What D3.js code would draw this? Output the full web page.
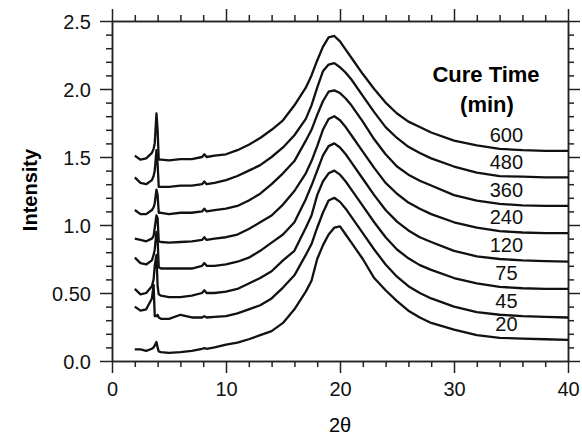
<!DOCTYPE html>
<html>
<head>
<meta charset="utf-8">
<script src="https://cdn.jsdelivr.net/npm/d3@7"></script>
<style>
  body { margin: 0; background: #fff; }
  svg { display: block; font-family: "Liberation Sans", Arial, sans-serif; }
  .axis path, .axis line { stroke: #222; stroke-width: 1.5; }
  .curve { fill: none; stroke: #111; stroke-width: 2.3; stroke-linejoin: round; }
</style>
</head>
<body>
<script>
/*
 * XRD patterns for a series of cure times, stacked with an offset.
 */

const WIDTH = 582;
const HEIGHT = 435;
const LEFT = 112;
const RIGHT = 568;
const TOP = 21;
const BOTTOM = 361;

// 2 theta grid shared by every pattern
const twoTheta = [2.0, 2.5, 3.0, 3.5, 3.65, 3.75, 3.9, 4.0, 4.1, 4.3, 5, 6, 7, 7.9, 8.1, 8.3, 9, 10, 11, 12,
  13, 14, 15, 16, 17, 17.5, 18, 18.5, 19, 19.5, 20, 20.5, 21, 22, 23, 24, 25, 26, 27, 28,
  30, 32, 34, 36, 38, 40];

// intensities, one array per cure time (min)
const cure600 = [1.51, 1.48, 1.49, 1.53, 1.56, 1.60, 1.82, 1.70, 1.48, 1.48, 1.475, 1.485, 1.485, 1.50, 1.52, 1.50, 1.51, 1.52, 1.55, 1.59,
  1.64, 1.70, 1.77, 1.88, 2.01, 2.10, 2.21, 2.31, 2.38, 2.39, 2.35, 2.29, 2.23, 2.11, 2.00, 1.90, 1.82, 1.76, 1.72, 1.68,
  1.62, 1.585, 1.56, 1.55, 1.545, 1.545];
const cure480 = [1.35, 1.31, 1.30, 1.33, 1.36, 1.40, 1.55, 1.45, 1.28, 1.28, 1.28, 1.29, 1.29, 1.30, 1.32, 1.30, 1.31, 1.33, 1.36, 1.40,
  1.44, 1.50, 1.57, 1.66, 1.78, 1.88, 2.01, 2.13, 2.18, 2.19, 2.16, 2.12, 2.07, 1.95, 1.83, 1.72, 1.64, 1.575, 1.53, 1.49,
  1.43, 1.385, 1.36, 1.355, 1.35, 1.35];
const cure360 = [1.11, 1.08, 1.08, 1.11, 1.13, 1.16, 1.26, 1.22, 1.09, 1.09, 1.08, 1.09, 1.09, 1.10, 1.12, 1.10, 1.11, 1.12, 1.14, 1.18,
  1.23, 1.30, 1.38, 1.47, 1.62, 1.70, 1.81, 1.91, 1.98, 1.99, 1.97, 1.93, 1.88, 1.76, 1.63, 1.52, 1.43, 1.37, 1.325, 1.29,
  1.22, 1.18, 1.155, 1.145, 1.14, 1.14];
const cure240 = [0.90, 0.89, 0.88, 0.90, 0.92, 0.98, 1.07, 1.05, 0.88, 0.875, 0.87, 0.875, 0.88, 0.89, 0.91, 0.89, 0.90, 0.91, 0.93, 0.97,
  1.02, 1.07, 1.15, 1.25, 1.38, 1.47, 1.58, 1.70, 1.78, 1.80, 1.77, 1.72, 1.66, 1.54, 1.42, 1.31, 1.23, 1.165, 1.12, 1.08,
  1.02, 0.98, 0.955, 0.945, 0.94, 0.94];
const cure120 = [0.76, 0.72, 0.71, 0.74, 0.78, 0.82, 0.95, 0.90, 0.69, 0.68, 0.68, 0.68, 0.68, 0.70, 0.72, 0.70, 0.70, 0.71, 0.73, 0.76,
  0.81, 0.87, 0.93, 1.02, 1.19, 1.29, 1.40, 1.51, 1.58, 1.60, 1.57, 1.52, 1.46, 1.34, 1.22, 1.11, 1.025, 0.96, 0.91, 0.875,
  0.81, 0.77, 0.75, 0.74, 0.735, 0.73];
const cure75 = [0.53, 0.49, 0.50, 0.55, 0.60, 0.70, 0.78, 0.55, 0.49, 0.48, 0.47, 0.47, 0.48, 0.50, 0.52, 0.50, 0.50, 0.51, 0.53, 0.57,
  0.61, 0.66, 0.74, 0.81, 0.98, 1.07, 1.22, 1.32, 1.38, 1.40, 1.37, 1.32, 1.26, 1.14, 1.02, 0.91, 0.82, 0.755, 0.705, 0.67,
  0.61, 0.57, 0.545, 0.535, 0.53, 0.53];
const cure45 = [0.40, 0.37, 0.38, 0.46, 0.56, 0.33, 0.33, 0.34, 0.32, 0.31, 0.31, 0.34, 0.32, 0.32, 0.33, 0.32, 0.325, 0.33, 0.35, 0.38,
  0.41, 0.46, 0.54, 0.63, 0.78, 0.86, 0.98, 1.09, 1.18, 1.20, 1.17, 1.12, 1.06, 0.94, 0.82, 0.71, 0.62, 0.55, 0.50, 0.46,
  0.40, 0.36, 0.34, 0.33, 0.325, 0.32];
const cure20 = [0.085, 0.085, 0.075, 0.09, 0.10, 0.115, 0.14, 0.10, 0.07, 0.065, 0.06, 0.065, 0.075, 0.09, 0.095, 0.09, 0.10, 0.12, 0.135, 0.16,
  0.19, 0.22, 0.28, 0.38, 0.51, 0.59, 0.75, 0.85, 0.93, 0.98, 0.99, 0.93, 0.87, 0.75, 0.61, 0.52, 0.44, 0.37, 0.32, 0.28,
  0.23, 0.19, 0.17, 0.165, 0.16, 0.155];

const cureTimes = ['600', '480', '360', '240', '120', '75', '45', '20'];
const patterns = [cure600, cure480, cure360, cure240, cure120, cure75, cure45, cure20];

const xMajor = [0, 10, 20, 30, 40];
const xMinor = [2, 4, 6, 8, 12, 14, 16, 18, 22, 24, 26, 28, 32, 34, 36, 38];
const yMajor = [0, 0.5, 1.0, 1.5, 2.0, 2.5];
const yMajorLabels = ['0.0', '0.50', '1.0', '1.5', '2.0', '2.5'];
const yMinor = [0.1, 0.2, 0.3, 0.4, 0.6, 0.7, 0.8, 0.9, 1.1, 1.2, 1.3, 1.4, 1.6, 1.7, 1.8, 1.9, 2.1, 2.2, 2.3, 2.4];

// where the cure time labels sit along 2 theta
const LABEL_X = 34.6;
const LABEL_INDEX = twoTheta.indexOf(34);

const svg = d3.select('body')
  .append('svg')
    .attr('width', WIDTH)
    .attr('height', HEIGHT);

const xScale = d3.scaleLinear().domain([0, 40]).range([LEFT, RIGHT]);
const yScale = d3.scaleLinear().domain([0, 2.5]).range([BOTTOM, TOP]);

/*
 * Draws one side of the frame: major ticks (labelled or not) and minor ticks.
 */

const addSide = (axisFn, scale, major, minor, transform, labels) => {
  const g = svg.append('g').attr('class', 'axis').attr('transform', transform);

  g.append('g').call(axisFn(scale)
      .tickValues(minor)
      .tickSize(6)
      .tickSizeOuter(0)
      .tickFormat(''));

  const majorAxis = axisFn(scale)
      .tickValues(major)
      .tickSize(12)
      .tickSizeOuter(0)
      .tickPadding(labels ? 9 : 0)
      .tickFormat(labels ? ((d, i) => labels[i]) : '');

  g.append('g').call(majorAxis);
  g.selectAll('text')
      .attr('fill', '#111')
      .style('font-size', '20px');
};

addSide(d3.axisBottom, xScale, xMajor, xMinor, `translate(0, ${BOTTOM})`, xMajor.map(String));
addSide(d3.axisTop, xScale, xMajor, xMinor, `translate(0, ${TOP})`, null);
addSide(d3.axisLeft, yScale, yMajor, yMinor, `translate(${LEFT}, 0)`, yMajorLabels);
addSide(d3.axisRight, yScale, yMajor, yMinor, `translate(${RIGHT}, 0)`, null);

// nudge y labels down a touch like the original
svg.selectAll('.axis text').filter(function () {
  return this.getAttribute('x') && +this.getAttribute('x') < 0;
}).attr('dy', '0.38em');

/*
 * The patterns.
 */

const line = d3.line()
    .x((d, i) => xScale(twoTheta[i]))
    .y(d => yScale(d));

svg.append('g')
  .selectAll('path')
  .data(patterns)
  .enter()
  .append('path')
    .attr('class', 'curve')
    .attr('d', line);

// cure time labels above each pattern
svg.append('g')
  .selectAll('text')
  .data(cureTimes)
  .enter()
  .append('text')
    .attr('x', xScale(LABEL_X))
    .attr('y', (d, i) => yScale(patterns[i][LABEL_INDEX]) - 7)
    .attr('text-anchor', 'middle')
    .style('font-size', '20px')
    .attr('fill', '#111')
    .text(d => d);

svg.append('text')
    .attr('x', 486)
    .attr('y', 82)
    .attr('text-anchor', 'middle')
    .style('font-size', '22px')
    .style('font-weight', 'bold')
    .text('Cure Time');

svg.append('text')
    .attr('x', 487)
    .attr('y', 112)
    .attr('text-anchor', 'middle')
    .style('font-size', '22px')
    .style('font-weight', 'bold')
    .text('(min)');

// axis titles
svg.append('text')
    .attr('x', 340)
    .attr('y', 432)
    .attr('text-anchor', 'middle')
    .style('font-size', '20px')
    .text('2θ');

svg.append('text')
    .attr('transform', 'translate(37, 190) rotate(-90)')
    .attr('text-anchor', 'middle')
    .style('font-size', '20px')
    .style('font-weight', 'bold')
    .text('Intensity');
</script>
</body>
</html>
